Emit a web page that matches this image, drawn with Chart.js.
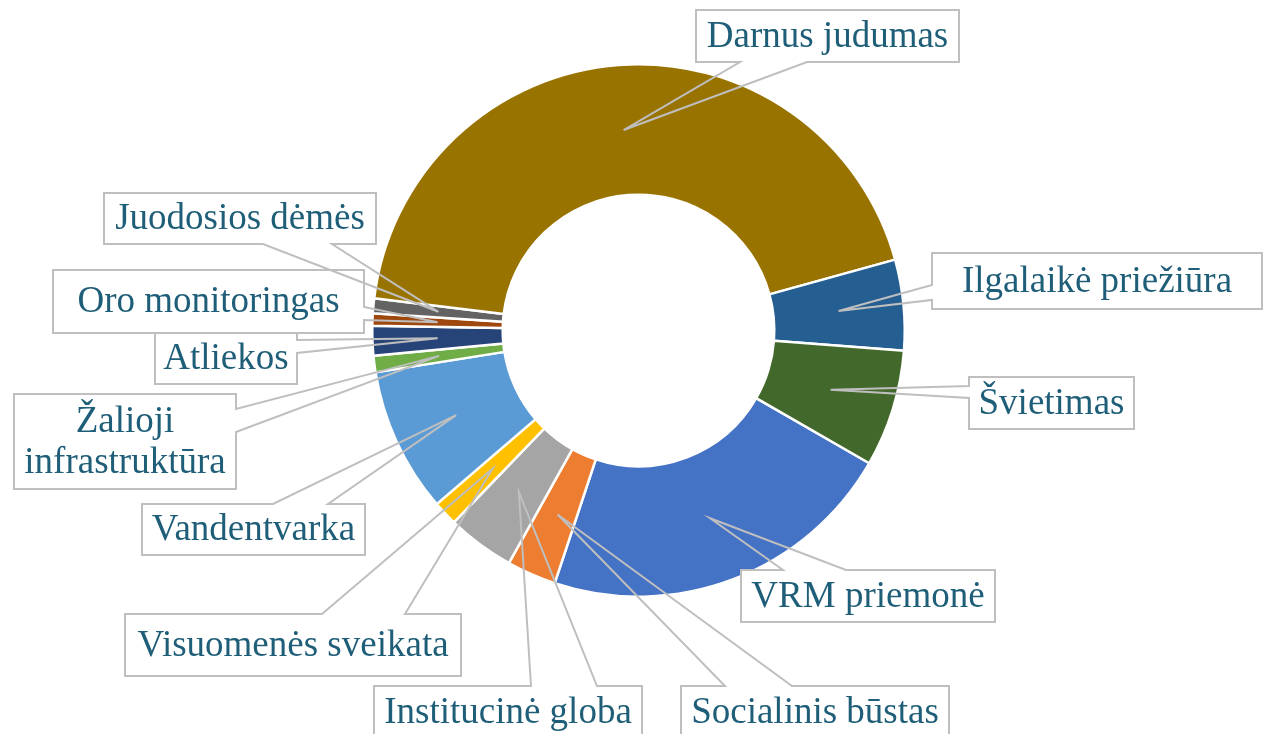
<!DOCTYPE html>
<html>
<head>
<meta charset="utf-8">
<script src="https://cdn.jsdelivr.net/npm/chart.js@4.4.0/dist/chart.umd.min.js"></script>
<style>
  html, body { margin: 0; padding: 0; background: #fff; }
  #chart { display: block; }
</style>
</head>
<body>
<canvas id="chart" width="1263" height="734"></canvas>
<script>
// Doughnut data (shares, %)
const categories = ['VRM priemonė', 'Socialinis būstas', 'Institucinė globa', 'Visuomenės sveikata',
  'Vandentvarka', 'Žalioji infrastruktūra', 'Atliekos', 'Oro monitoringas', 'Juodosios dėmės',
  'Darnus judumas', 'Ilgalaikė priežiūra', 'Švietimas'];
const shares = [21.8, 3.0, 4.1, 1.5, 8.8, 1.0, 1.8, 0.75, 0.9, 43.8, 5.5, 7.1];
const sliceColors = ['#4472C4', '#ED7D31', '#A5A5A5', '#FFC000', '#5B9BD5', '#70AD47',
  '#264478', '#9E480E', '#636363', '#997300', '#255E91', '#43682B'];

// callout boxes (layout only): box rect, side the wedge leaves from, wedge base on that side
const callouts = [
  { x: 741, y: 570, w: 254, h: 52, side: 'top', a: 783, b: 846 },
  { x: 681, y: 686, w: 268, h: 60, side: 'top', a: 725, b: 792 },
  { x: 374, y: 686, w: 268, h: 60, side: 'top', a: 531, b: 597 },
  { x: 125, y: 614, w: 336, h: 62, side: 'top', a: 322, b: 405 },
  { x: 142, y: 504, w: 223, h: 51, side: 'top', a: 273, b: 328 },
  { x: 14, y: 394, w: 222, h: 95, side: 'right', a: 409, b: 432, lines: ['Žalioji', 'infrastruktūra'] },
  { x: 155, y: 332, w: 142, h: 52, side: 'right', a: 340, b: 353 },
  { x: 53, y: 270, w: 311, h: 63, side: 'right', a: 307, b: 320 },
  { x: 104, y: 193, w: 272, h: 51, side: 'bottom', a: 263, b: 332 },
  { x: 696, y: 10, w: 263, h: 52, side: 'bottom', a: 740, b: 807 },
  { x: 932, y: 253, w: 330, h: 56, side: 'left', a: 285, b: 300 },
  { x: 969, y: 377, w: 165, h: 52, side: 'left', a: 386, b: 398 }
];

const calloutPlugin = {
  id: 'callouts',
  afterDatasetsDraw(chart){
    const ctx = chart.ctx;
    const arcs = chart.getDatasetMeta(0).data;
    ctx.save();
    arcs.forEach((arc, i) => {
      const c = callouts[i];
      if (!c) return;
      const tip = arc.tooltipPosition(true);
      const L = c.x, T = c.y, R = c.x + c.w, B = c.y + c.h;
      // box fill
      ctx.fillStyle = '#ffffff';
      ctx.fillRect(L, T, c.w, c.h);
      // outline incl. wedge
      ctx.beginPath();
      if (c.side === 'top'){
        ctx.moveTo(L, T); ctx.lineTo(c.a, T); ctx.lineTo(tip.x, tip.y); ctx.lineTo(c.b, T);
        ctx.lineTo(R, T); ctx.lineTo(R, B); ctx.lineTo(L, B); ctx.closePath();
      } else if (c.side === 'bottom'){
        ctx.moveTo(L, T); ctx.lineTo(R, T); ctx.lineTo(R, B); ctx.lineTo(c.b, B);
        ctx.lineTo(tip.x, tip.y); ctx.lineTo(c.a, B); ctx.lineTo(L, B); ctx.closePath();
      } else if (c.side === 'right'){
        ctx.moveTo(L, T); ctx.lineTo(R, T); ctx.lineTo(R, c.a); ctx.lineTo(tip.x, tip.y);
        ctx.lineTo(R, c.b); ctx.lineTo(R, B); ctx.lineTo(L, B); ctx.closePath();
      } else {
        ctx.moveTo(L, T); ctx.lineTo(R, T); ctx.lineTo(R, B); ctx.lineTo(L, B);
        ctx.lineTo(L, c.b); ctx.lineTo(tip.x, tip.y); ctx.lineTo(L, c.a); ctx.closePath();
      }
      ctx.strokeStyle = '#BFBFBF';
      ctx.lineWidth = 2;
      ctx.lineJoin = 'miter';
      ctx.stroke();
      // text
      const lines = c.lines || [chart.data.labels[i]];
      ctx.fillStyle = '#1F5E78';
      ctx.font = '37px "Liberation Serif", "Times New Roman", serif';
      ctx.textAlign = 'center';
      ctx.textBaseline = 'middle';
      const lh = 41;
      const cx = L + c.w / 2;
      const cy0 = c.side === 'top' && T + c.h > 734 ? T + 26 : T + c.h / 2;
      lines.forEach((ln, k) => {
        ctx.fillText(ln, cx, cy0 + (k - (lines.length - 1) / 2) * lh + 1);
      });
    });
    ctx.restore();
  }
};

new Chart(document.getElementById('chart'), {
  type: 'doughnut',
  data: {
    labels: categories,
    datasets: [{
      data: shares,
      backgroundColor: sliceColors,
      borderColor: '#ffffff',
      borderWidth: 2.5
    }]
  },
  options: {
    responsive: false,
    animation: false,
    rotation: 119.9,
    cutout: '51%',
    layout: { padding: { left: 371, right: 357, top: 63, bottom: 136 } },
    plugins: {
      legend: { display: false },
      tooltip: { enabled: false }
    }
  },
  plugins: [calloutPlugin]
});
</script>
</body>
</html>
